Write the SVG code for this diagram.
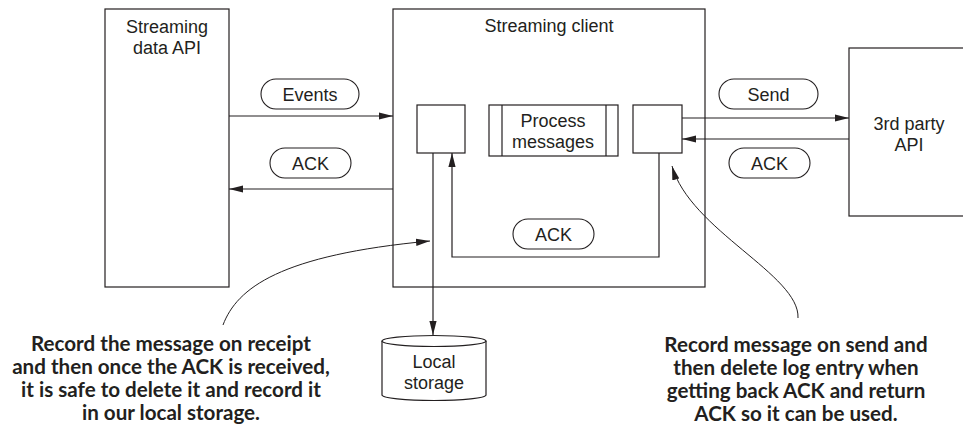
<svg xmlns="http://www.w3.org/2000/svg" width="963" height="427" viewBox="0 0 963 427">
<style>
.box{fill:#fff;stroke:#231f20;stroke-width:1.2}
.pill{fill:#fff;stroke:#231f20;stroke-width:1.1}
.t{font-family:"Liberation Sans",Arial,sans-serif;font-size:18px;fill:#231f20;text-anchor:middle}
.b{font-family:Lato,"Open Sans",sans-serif;font-weight:bold;font-size:20.6px;fill:#231f20;text-anchor:middle}
.ln{fill:none;stroke:#231f20;stroke-width:1.2}
.cv{fill:none;stroke:#231f20;stroke-width:1}
</style>
<defs>
<marker id="ah" markerUnits="userSpaceOnUse" markerWidth="14" markerHeight="8" refX="14" refY="4" orient="auto">
<path d="M0,0.4 L14,4 L0,7.6 z" fill="#231f20"/>
</marker>
</defs>
<rect width="963" height="427" fill="#fff"/>
<g id="streaming-data-api">
<rect class="box" x="105" y="9" width="124" height="278"/>
<text class="t" x="167" y="33">Streaming</text>
<text class="t" x="167" y="54">data API</text>
</g>
<g id="streaming-client">
<rect class="box" x="393" y="9" width="312" height="278"/>
<text class="t" x="549" y="32">Streaming client</text>
</g>
<g id="receive-log">
<rect class="box" x="417" y="105" width="48" height="48"/>
</g>
<g id="process-messages">
<rect class="box" x="489" y="105" width="129" height="51"/>
<line class="ln" x1="502" y1="105" x2="502" y2="156"/>
<line class="ln" x1="606" y1="105" x2="606" y2="156"/>
<text class="t" x="553" y="127">Process</text>
<text class="t" x="553" y="148">messages</text>
</g>
<g id="send-log">
<rect class="box" x="633" y="105" width="49" height="48"/>
</g>
<g id="third-party-api">
<rect class="box" x="849" y="48" width="130" height="168"/>
<text class="t" x="909" y="130">3rd party</text>
<text class="t" x="909" y="151">API</text>
</g>
<g id="local-storage">
<path class="box" d="M382,341 L382,395 A52,5.5 0 0 0 486,395 L486,341"/>
<ellipse class="box" cx="434" cy="341" rx="52" ry="5.5"/>
<text class="t" x="434" y="368">Local</text>
<text class="t" x="434" y="389">storage</text>
</g>
<g id="connectors">
<line class="ln" x1="229" y1="116" x2="393" y2="116" marker-end="url(#ah)"/>
<line class="ln" x1="393" y1="189" x2="229" y2="189" marker-end="url(#ah)"/>
<line class="ln" x1="682" y1="118" x2="849" y2="118" marker-end="url(#ah)"/>
<line class="ln" x1="849" y1="139" x2="682" y2="139" marker-end="url(#ah)"/>
<line class="ln" x1="433" y1="153" x2="433" y2="335" marker-end="url(#ah)"/>
<polyline class="ln" points="659,153 659,257 452,257 452,153" marker-end="url(#ah)"/>
<path class="cv" d="M223,325 C237,288 280,255 430,241" marker-end="url(#ah)"/>
<path class="cv" d="M798,318 C800,275 690,230 672,166" marker-end="url(#ah)"/>
</g>
<g id="label-events">
<rect class="pill" x="261" y="79" width="98" height="30" rx="15"/>
<text class="t" x="310" y="101">Events</text>
</g>
<g id="label-ack-left">
<rect class="pill" x="270" y="148" width="81" height="30" rx="15"/>
<text class="t" x="310.5" y="170">ACK</text>
</g>
<g id="label-send">
<rect class="pill" x="719" y="79" width="99" height="30" rx="15"/>
<text class="t" x="768.5" y="101">Send</text>
</g>
<g id="label-ack-right">
<rect class="pill" x="729" y="148" width="81" height="30" rx="15"/>
<text class="t" x="769.5" y="170">ACK</text>
</g>
<g id="label-ack-mid">
<rect class="pill" x="513" y="219" width="81" height="30" rx="15"/>
<text class="t" x="553.5" y="241">ACK</text>
</g>
<g id="note-left">
<text class="b" x="171" y="351">Record the message on receipt</text>
<text class="b" x="171" y="374">and then once the ACK is received,</text>
<text class="b" x="171" y="397">it is safe to delete it and record it</text>
<text class="b" x="171" y="420">in our local storage.</text>
</g>
<g id="note-right">
<text class="b" x="796" y="352">Record message on send and</text>
<text class="b" x="796" y="375">then delete log entry when</text>
<text class="b" x="796" y="398">getting back ACK and return</text>
<text class="b" x="796" y="421">ACK so it can be used.</text>
</g>
</svg>
